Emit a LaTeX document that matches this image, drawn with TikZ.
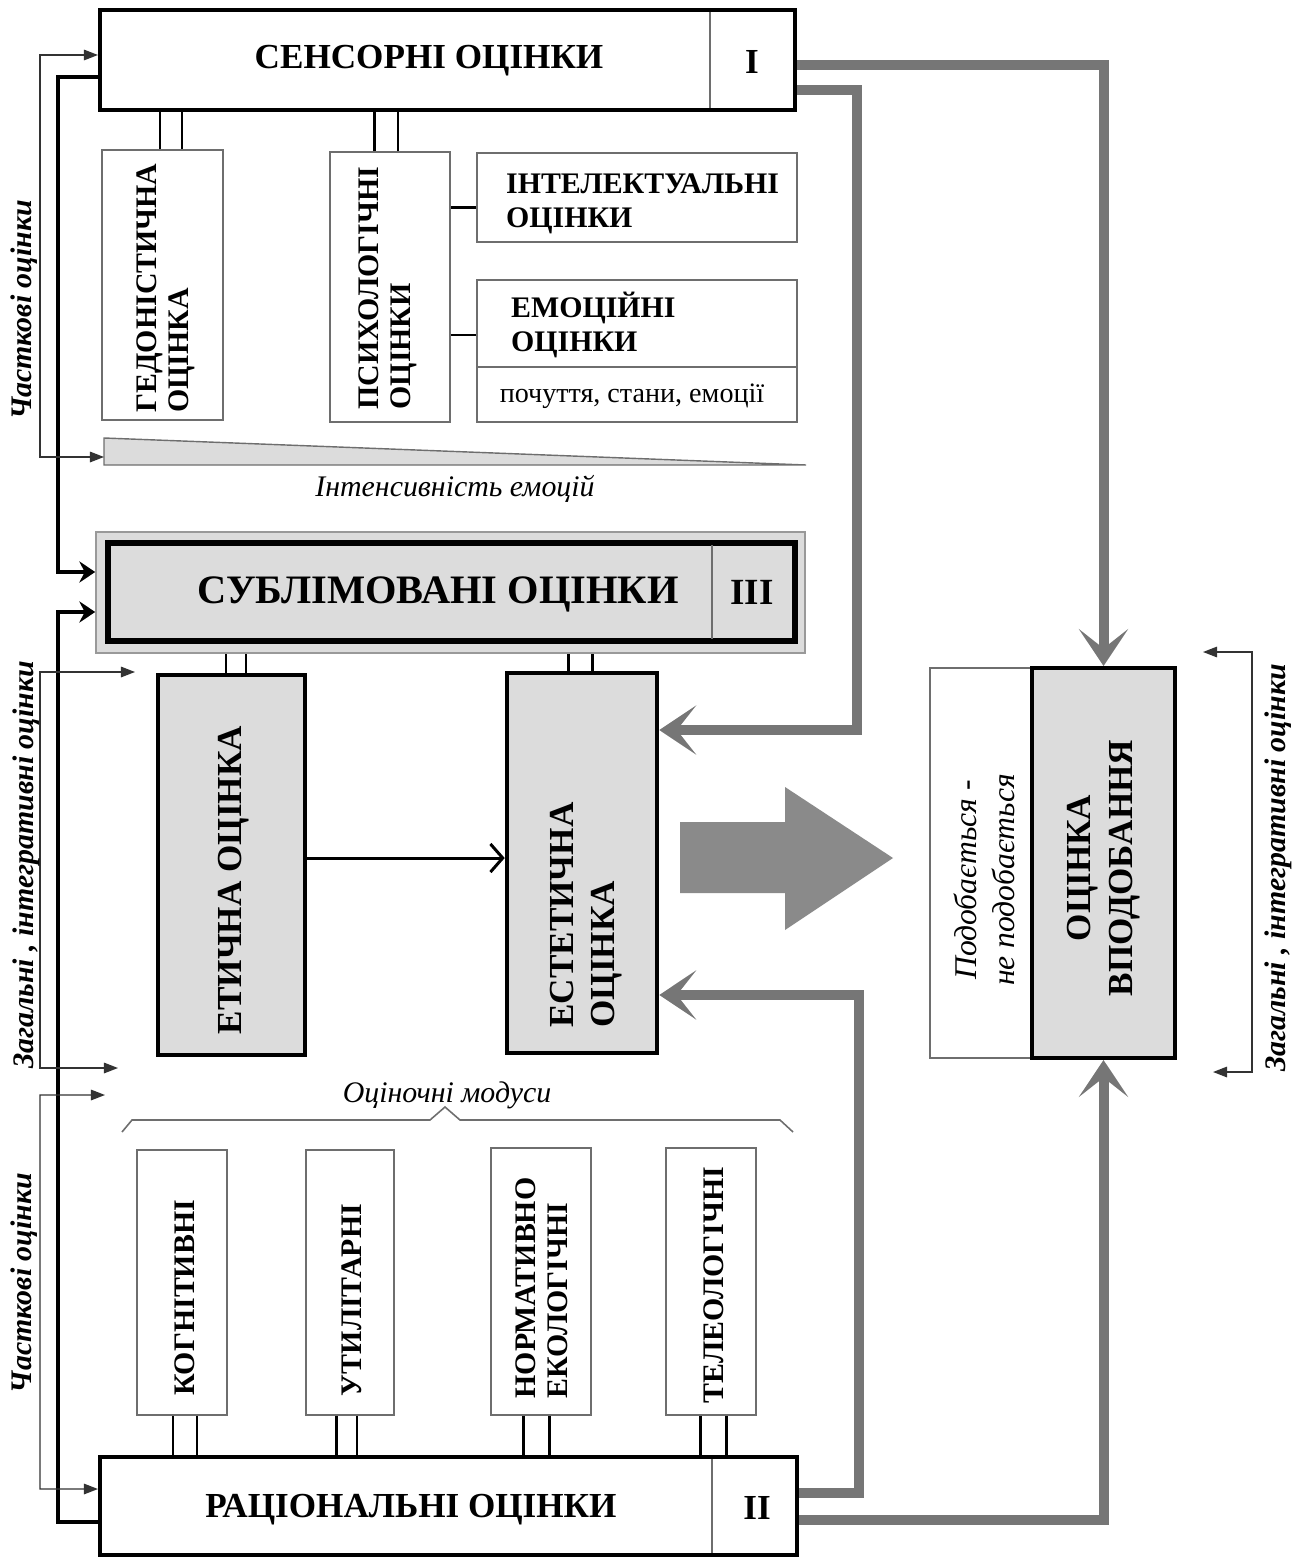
\documentclass[tikz,border=0pt]{standalone}
\usepackage{fontspec}
\setmainfont{Liberation Serif}
\usetikzlibrary{arrows.meta,fit,calc}
\definecolor{lg}{HTML}{DCDCDC}
\definecolor{gl}{HTML}{767676}
\definecolor{ga}{HTML}{8A8A8A}
\definecolor{tb}{HTML}{6E6E6E}
\newcommand\vlink[3]{\coordinate (tmpv) at ([xshift=#3]#1.north); \draw[dbl] (tmpv) -- (tmpv |- #2.south);}
\newcommand\vlinkup[3]{\coordinate (tmpv) at ([xshift=#3]#1.south); \draw[dbl] (tmpv) -- (tmpv |- #2.north);}
\begin{document}
\begin{tikzpicture}[x=0.02cm,y=-0.02cm,
  thickbox/.style={draw=black,line width=2.3pt,inner sep=0pt},
  thinbox/.style={draw=tb,line width=0.9pt,inner sep=0pt},
  divider/.style={draw=tb,line width=0.8pt},
  dbl/.style={line width=1.7pt},
  garrow/.style={draw=gl,line width=5.7pt,-{Stealth[length=21pt,width=28pt,inset=11pt]}},
  tk/.style={line width=2.4pt,-{Stealth[length=9pt,width=12pt,inset=3pt]}},
  tarr/.style={draw=black!80,line width=0.8pt,{Triangle[length=8pt,width=6pt]}-{Triangle[length=8pt,width=6pt]}},
  b20/.style={font=\bfseries\fontsize{20}{23}\selectfont},
  b17/.style={font=\bfseries\fontsize{17}{18}\selectfont},
  it17/.style={font=\itshape\fontsize{17}{19}\selectfont},
  bi17/.style={font=\bfseries\itshape\fontsize{17}{19}\selectfont},
]
\useasboundingbox (0,0) rectangle (1300,1557);

% ---------- sensory block ----------
\node[thickbox,fit={(100,10) (795,110)}] (sens) {};
\draw[divider] (710,12) -- (710,108);
\node[b20] (sensT) at (429,61) {СЕНСОРНІ ОЦІНКИ};
\node[b20] (sensN) at (752,62) {I};

\node[thinbox,fit={(102,150) (223,420)}] (ged) {};
\node[thinbox,fit={(330,152) (450,422)}] (psy) {};
\node[thinbox,fit={(477,153) (797,242)}] (intel) {};
\node[thinbox,fit={(477,280) (797,422)}] (emo) {};
\draw[divider] (477,367) -- (797,367);

\node[b17,rotate=90,align=left] (gedT) at (166,288) {ГЕДОНІСТИЧНА\\ОЦІНКА};
\node[b17,rotate=90,align=left] (psyT) at (388,288) {ПСИХОЛОГІЧНІ\\ОЦІНКИ};
\node[align=left,anchor=west,font=\bfseries\fontsize{17}{19}\selectfont] (intelT) at (500,204) {ІНТЕЛЕКТУАЛЬНІ\\ОЦІНКИ};
\node[align=left,anchor=west,font=\bfseries\fontsize{17}{19}\selectfont] (emoT) at (505,325) {ЕМОЦІЙНІ\\ОЦІНКИ};
\node[font=\fontsize{16}{18}\selectfont] (emoS) at (632,396) {почуття, стани, емоції};

\vlink{ged}{sens}{-0.05cm}
\vlink{ged}{sens}{0.39cm}
\vlink{psy}{sens}{-0.32cm}
\vlink{psy}{sens}{0.16cm}
\coordinate (ci) at ([yshift=-0.2cm]intel.west);
\draw[dbl] (ci) -- (ci -| psy.east);
\coordinate (ce) at ([yshift=0.32cm]emo.west);
\draw[dbl] (ce) -- (ce -| psy.east);

% intensity wedge
\coordinate (triA) at (104,438);
\coordinate (triB) at (104,465);
\coordinate (triC) at (806,465);
\coordinate (triL) at (104,457);
\draw[draw=tb,fill=lg,line width=0.8pt] (triA) -- (triB) -- (triC) -- cycle;
\node[it17] (intT) at (455,489) {Інтенсивність емоцій};

% ---------- sublimated block ----------
\node[draw=black!40,fill=lg,line width=0.9pt,inner sep=0pt,fit={(96,532) (805,653)}] (sublo) {};
\node[draw=black,line width=3.2pt,fill=lg,inner sep=0pt,fit={(108,543) (795,641)}] (subl) {};
\draw[divider] (712,545) -- (712,639);
\node[font=\bfseries\fontsize{23}{25}\selectfont] (sublT) at (438,594) {СУБЛІМОВАНІ ОЦІНКИ};
\node[font=\bfseries\fontsize{21}{23}\selectfont] (sublN) at (752,592) {III};

\node[thickbox,line width=2.6pt,fill=lg,fit={(158,675) (305,1055)}] (eth) {};
\node[thickbox,line width=2.6pt,fill=lg,fit={(507,673) (657,1053)}] (aest) {};
\node[font=\bfseries\fontsize{20}{23}\selectfont,rotate=90] (ethT) at (234,880) {ЕТИЧНА ОЦІНКА};
\node[font=\bfseries\fontsize{20}{23}\selectfont,rotate=90,align=left] (aestT) at (586,915) {ЕСТЕТИЧНА\\ОЦІНКА};

\vlink{eth}{sublo}{-0.11cm}
\vlink{eth}{sublo}{0.29cm}
\vlink{aest}{sublo}{-0.28cm}
\vlink{aest}{sublo}{0.2cm}

\coordinate (ea) at ([yshift=0.14cm]eth.east);
\draw[line width=1.7pt,-{Straight Barb[length=7pt,width=16pt]}] (ea) -- (ea -| aest.west);

% big grey arrow
\fill[ga] (680,822) -- (785,822) -- (785,787) -- (893,858) -- (785,930) -- (785,893) -- (680,893) -- cycle;

% ---------- liking block ----------
\node[thinbox,fit={(930,668) (1032,1058)}] (likew) {};
\node[thickbox,fill=lg,fit={(1032,668) (1175,1058)}] (likeg) {};
\node[font=\bfseries\fontsize{20}{24}\selectfont,rotate=90,align=center] (likeT) at (1104,868) {ОЦІНКА\\ВПОДОБАННЯ};
\node[font=\itshape\fontsize{18}{21.5}\selectfont,rotate=90,align=center] (likeS) at (984,880) {Подобається -\\не подобається};

% ---------- rational block ----------
\node[thickbox,fit={(100,1457) (797,1555)}] (rat) {};
\draw[divider] (712,1459) -- (712,1553);
\node[b20] (ratT) at (411,1510) {РАЦІОНАЛЬНІ ОЦІНКИ};
\node[b20] (ratN) at (757,1508) {II};

\node[thinbox,fit={(137,1150) (227,1415)}] (kog) {};
\node[thinbox,fit={(306,1150) (394,1415)}] (util) {};
\node[thinbox,fit={(491,1148) (591,1415)}] (norm) {};
\node[thinbox,fit={(666,1148) (756,1415)}] (tel) {};
\node[b17,rotate=90] (kogT) at (185,1298) {КОГНІТИВНІ};
\node[b17,rotate=90] (utilT) at (352,1300) {УТИЛІТАРНІ};
\node[b17,rotate=90,align=left] (normT) at (542,1288) {НОРМАТИВНО\\ЕКОЛОГІЧНІ};
\node[b17,rotate=90] (telT) at (714,1285) {ТЕЛЕОЛОГІЧНІ};

\vlinkup{kog}{rat}{-0.18cm}
\vlinkup{kog}{rat}{0.3cm}
\vlinkup{util}{rat}{-0.28cm}
\vlinkup{util}{rat}{0.14cm}
\vlinkup{norm}{rat}{-0.36cm}
\vlinkup{norm}{rat}{0.16cm}
\vlinkup{tel}{rat}{-0.21cm}
\vlinkup{tel}{rat}{0.31cm}

\node[it17] (modT) at (447,1095) {Оціночні модуси};
\draw[draw=tb,line width=0.9pt] (122,1132) -- (132,1120) -- (430,1120) -- (445,1107) -- (460,1120) -- (780,1120) -- (793,1132);

% ---------- grey feedback arrows ----------
\draw[garrow] ([yshift=-0.1cm]sens.east) -| (likeg.north);
\draw[garrow] ([yshift=-0.6cm]sens.east) -- ++(60,0) |- ([yshift=2.66cm]aest.east);
\draw[garrow] ([yshift=0.26cm]rat.east) -- ++(60,0) |- ([yshift=-2.64cm]aest.east);
\draw[garrow] ([yshift=-0.28cm]rat.east) -| (likeg.south);

% ---------- thick black arrows to sublimated ----------
\draw[tk] ([yshift=-0.34cm]sens.west) -- ++(-40,0) |- ([yshift=0.41cm]sublo.west);
\draw[tk] ([yshift=-0.32cm]rat.west) -- ++(-40,0) |- ([yshift=-0.39cm]sublo.west);

% ---------- thin brackets ----------
\coordinate (b1a) at ([yshift=0.1cm]sens.west);
\draw[tarr] (b1a) -| (40,457) -- (triL);
\coordinate (b2a) at (135,672);
\coordinate (b2b) at (118,1068);
\draw[tarr] (b2a) -| (40,1068) -- (b2b);
\coordinate (b3a) at (105,1095);
\coordinate (b3b) at ([yshift=0.34cm]rat.west);
\draw[tarr] (b3a) -| (40,1489) -- (b3b);
\coordinate (r1) at (1203,652);
\coordinate (r2) at (1213,1072);
\draw[tarr] (r1) -| (1252,1072) -- (r2);

\node[bi17,rotate=90] (lab1) at (24,310) {Часткові оцінки};
\node[bi17,rotate=90] (lab2) at (26,865) {Загальні , інтегративні оцінки};
\node[bi17,rotate=90] (lab3) at (24,1283) {Часткові оцінки};
\node[bi17,rotate=90] (lab4) at (1278,868) {Загальні , інтегративні оцінки};
\end{tikzpicture}
\end{document}
